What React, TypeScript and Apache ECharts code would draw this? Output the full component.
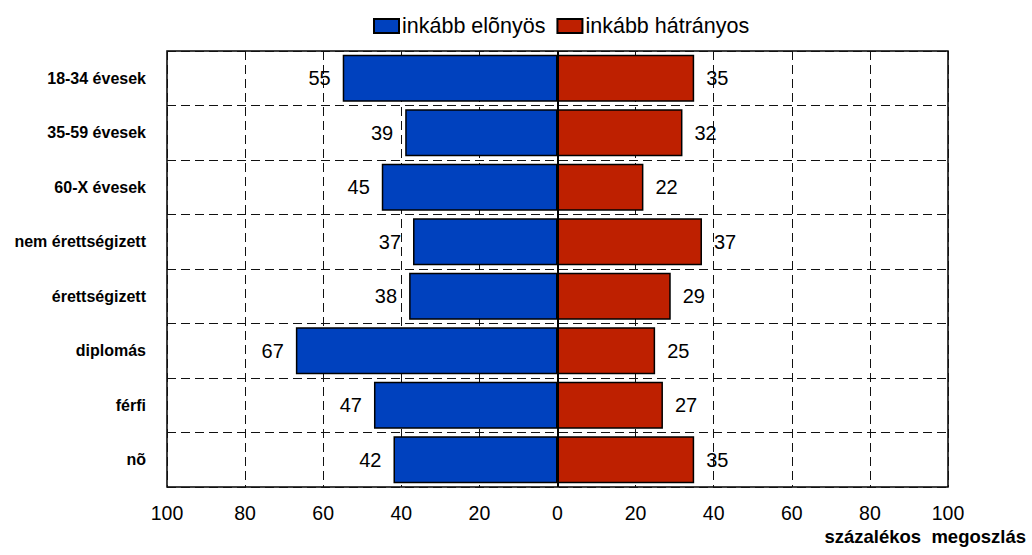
import React, { useEffect, useRef } from "react";
import * as echarts from "echarts";

const categories = [
  "18-34 évesek",
  "35-59 évesek",
  "60-X évesek",
  "nem érettségizett",
  "érettségizett",
  "diplomás",
  "férfi",
  "nõ",
];
const elonyos = [55, 39, 45, 37, 38, 67, 47, 42];
const hatranyos = [35, 32, 22, 37, 29, 25, 27, 35];
const seriesNames = ["inkább elõnyös", "inkább hátrányos"];
const axisTitle = "százalékos  megoszlás";

const FONT = "'Liberation Sans', Arial, sans-serif";

export default function App() {
  const ref = useRef<HTMLDivElement>(null);
  useEffect(() => {
    if (!ref.current) return;
    const chart = echarts.init(ref.current, null, { renderer: "svg" });
    const dashed = { color: "#111", width: 1, type: [9, 5] as any };
    chart.setOption({
      animation: false,
      textStyle: { fontFamily: FONT },
      legend: {
        top: 10,
        left: 368,
        itemWidth: 25,
        itemHeight: 14,
        itemGap: 11,
        icon: "rect",
        textStyle: { fontFamily: FONT, fontSize: 21.5, color: "#000", padding: [0, 0, 0, -2] },
        data: seriesNames,
      },
      grid: {
        left: 167,
        top: 51,
        width: 781,
        height: 436,
        outerBoundsMode: "none",
        containLabel: false,
        show: true,
        borderColor: "#000",
        borderWidth: 1.5,
        backgroundColor: "#fff",
      },
      xAxis: {
        type: "value",
        min: -100,
        max: 100,
        interval: 20,
        axisLine: { show: false },
        axisTick: { show: false },
        axisLabel: {
          formatter: (v: number) => String(Math.abs(v)),
          fontFamily: FONT,
          fontSize: 19.5,
          color: "#000",
          margin: 16,
        },
        splitLine: { show: true, lineStyle: dashed },
      },
      yAxis: {
        type: "category",
        inverse: true,
        data: categories,
        axisLine: { show: false },
        axisTick: { show: false },
        axisLabel: {
          fontFamily: FONT,
          fontWeight: "bold",
          fontSize: 16,
          color: "#000",
          margin: 21,
        },
        splitLine: { show: true, lineStyle: dashed },
      },
      series: [
        {
          name: seriesNames[0],
          type: "bar",
          stack: "total",
          barCategoryGap: "14%",
          data: elonyos.map((v) => -v),
          itemStyle: { color: "#0041BE", borderColor: "#000", borderWidth: 1.5 },
          label: {
            show: true,
            position: "left",
            distance: 12,
            formatter: (p: any) => String(Math.abs(p.value)),
            fontFamily: FONT,
            fontSize: 20,
            color: "#000",
          },
        },
        {
          name: seriesNames[1],
          type: "bar",
          stack: "total",
          barCategoryGap: "14%",
          data: hatranyos,
          itemStyle: { color: "#BE2000", borderColor: "#000", borderWidth: 1.5 },
          label: {
            show: true,
            position: "right",
            distance: 12,
            fontFamily: FONT,
            fontSize: 20,
            color: "#000",
          },
          markLine: {
            silent: true,
            symbol: "none",
            label: { show: false },
            lineStyle: { color: "#000", width: 2, type: "solid" },
            data: [{ xAxis: 0 }],
          },
        },
      ],
      graphic: [
        {
          type: "text",
          right: 6,
          top: 527,
          style: {
            text: axisTitle,
            fontFamily: FONT,
            fontWeight: "bold",
            fontSize: 18.5,
            fill: "#000",
          },
        },
      ],
    });
    return () => chart.dispose();
  }, []);
  return (
    <div
      ref={ref}
      style={{ position: "fixed", left: 0, top: 0, width: 1032, height: 555, background: "#fff" }}
    />
  );
}
